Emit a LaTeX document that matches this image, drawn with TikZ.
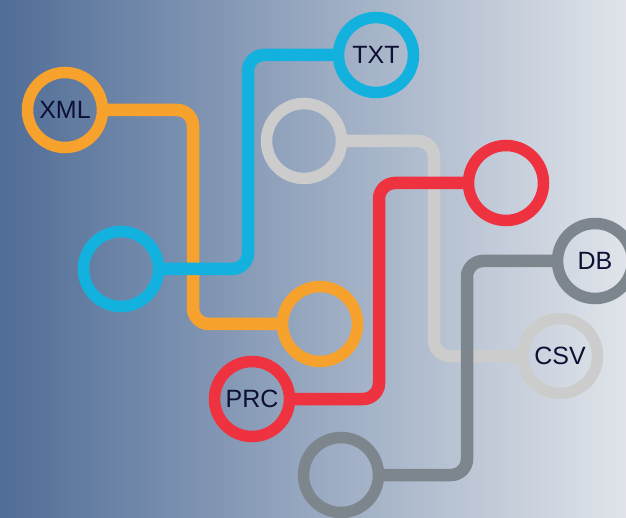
\documentclass[tikz,border=0pt]{standalone}
\usepackage{fontspec}
\setmainfont{Liberation Sans}
\pgfdeclarelayer{bg}
\pgfdeclarelayer{lines}
\pgfsetlayers{bg,lines,main}
\definecolor{cOrange}{HTML}{F7A22C}
\definecolor{cCyan}{HTML}{13B2DE}
\definecolor{cLight}{HTML}{CCCCCC}
\definecolor{cRed}{HTML}{EE3240}
\definecolor{cDark}{HTML}{7D868C}
\definecolor{cText}{HTML}{0E1033}
\definecolor{bgLeft}{HTML}{506D97}
\definecolor{bgRight}{HTML}{E0E4EA}
\tikzset{
  ring/.style={circle, draw=#1, line width=11.5pt, minimum size=75pt, inner sep=0pt, outer sep=0pt,
    text=cText, font=\fontsize{25}{30}\selectfont},
  conn/.style={draw=#1, line width=12.5pt, rounded corners=16pt}
}
\begin{document}
\begin{tikzpicture}[x=1pt,y=-1pt]
\begin{pgfonlayer}{bg}
\shade[left color=bgLeft, right color=bgRight] (0,0) rectangle (626,518);
\end{pgfonlayer}
\useasboundingbox (0,0) rectangle (626,518);
% rings
\node[ring=cOrange] (xml) at (65,110) {XML};
\node[ring=cOrange] (orc) at (320,324) {};
\node[ring=cCyan] (cl) at (121,269) {};
\node[ring=cCyan] (txt) at (376,55) {TXT};
\node[ring=cLight] (lg) at (304,141) {};
\node[ring=cLight] (csv) at (560,356) {CSV};
\node[ring=cRed] (rt) at (506,183) {};
\node[ring=cRed] (prc) at (252,399) {PRC};
\node[ring=cDark] (db) at (595,261) {DB};
\node[ring=cDark] (bgc) at (341,475) {};
% connectors
\begin{pgfonlayer}{lines}
\path[conn=cOrange] (xml.east) -- (193,110) -- (193,324) -- (orc.west);
\path[conn=cCyan] (cl.east) -- (248,269) -- (248,55) -- (txt.west);
\path[conn=cLight] (lg.east) -- (434,141) -- (434,356) -- (csv.west);
\path[conn=cRed] (rt.west) -- (379,183) -- (379,399) -- (prc.east);
\path[conn=cDark] (db.west) -- (467,261) -- (467,475) -- (bgc.east);
\end{pgfonlayer}
\end{tikzpicture}
\end{document}
